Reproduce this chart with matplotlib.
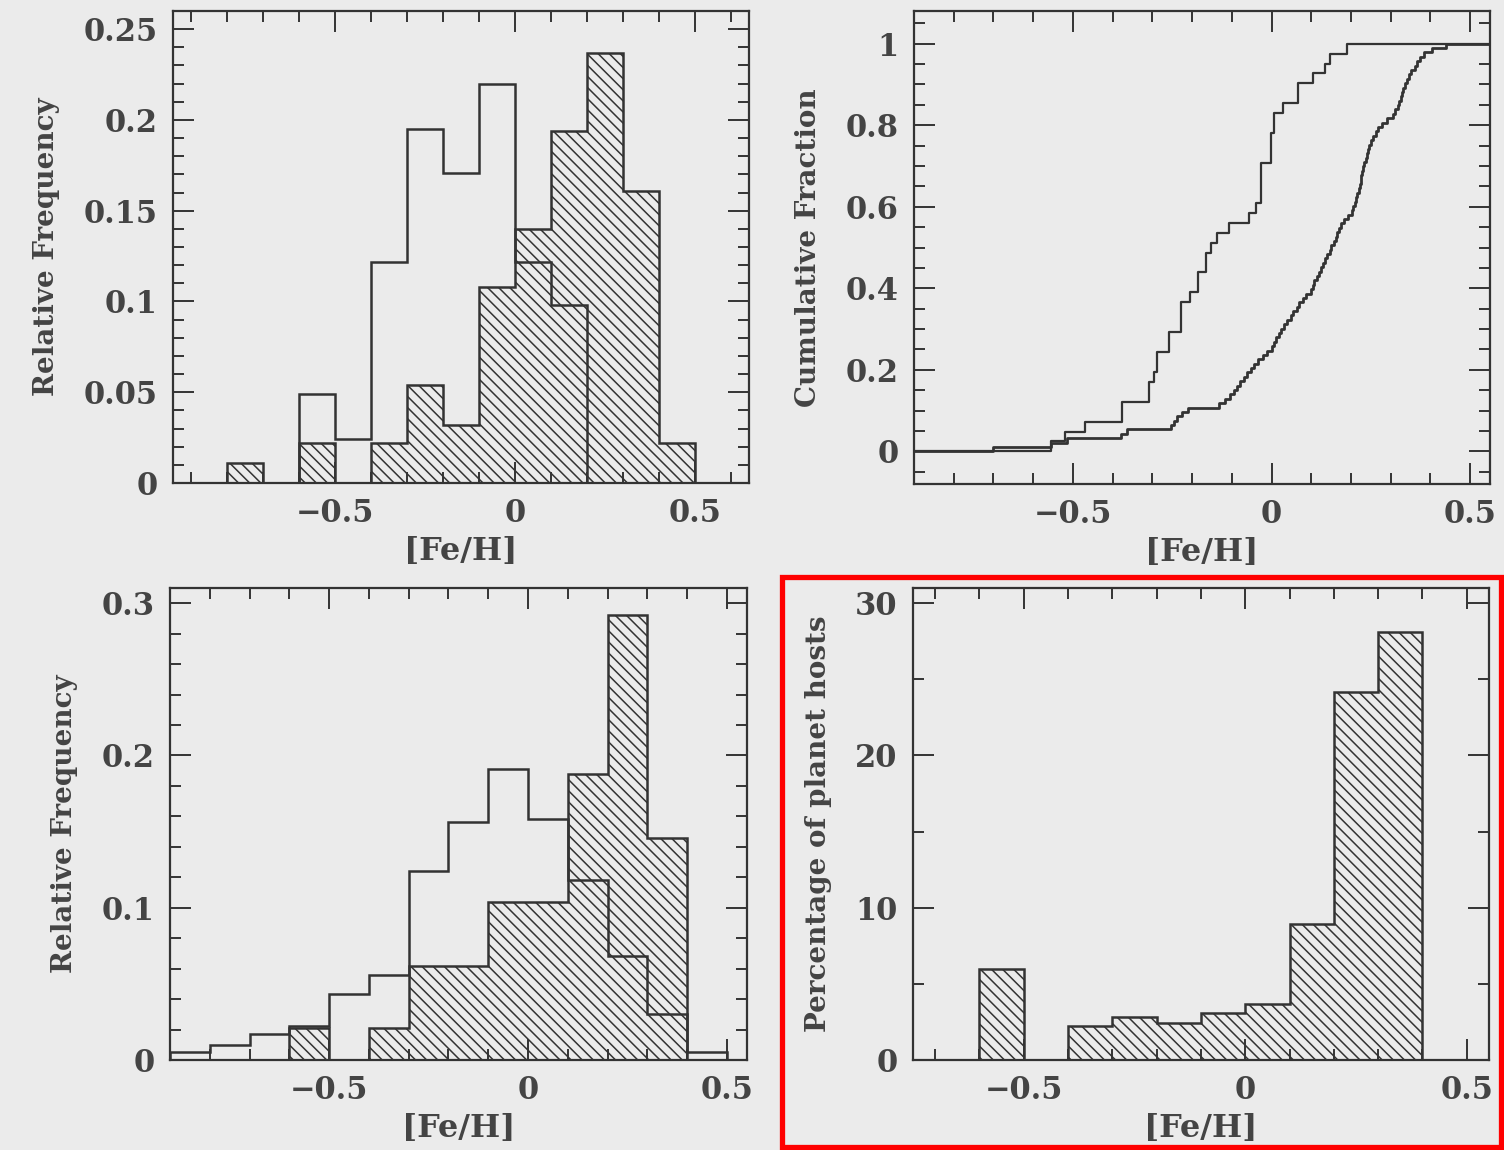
import numpy as np
import matplotlib.pyplot as plt
from matplotlib.patches import Rectangle
from matplotlib.ticker import MultipleLocator, FuncFormatter

# ---- top left: relative frequency, planet hosts (hatched) vs comparison stars
edges_a = [-0.8, -0.7, -0.6, -0.5, -0.4, -0.3, -0.2, -0.1, 0.0, 0.1, 0.2, 0.3, 0.4, 0.5]
hosts_a = [0.011, 0, 0.022, 0, 0.022, 0.054, 0.032, 0.108, 0.140, 0.194, 0.237, 0.161, 0.022]
comp_a = [0, 0, 0.049, 0.024, 0.122, 0.195, 0.171, 0.220, 0.122, 0.098, 0, 0, 0]

# ---- top right: cumulative distributions ([Fe/H] of each star)
comp_feh = [-0.555, -0.52, -0.469, -0.376, -0.376, -0.308, -0.308, -0.297, -0.289, -0.289,
            -0.258, -0.258, -0.228, -0.228, -0.228, -0.205, -0.184, -0.184, -0.166, -0.166,
            -0.153, -0.137, -0.107, -0.056, -0.039, -0.027, -0.027, -0.027, -0.027, -0.001,
            -0.001, -0.001, 0.007, 0.007, 0.028, 0.066, 0.066, 0.105, 0.134, 0.147, 0.189]
hosts_feh = [-0.70, -0.555, -0.515, -0.38, -0.363,
             -0.253, -0.245, -0.237, -0.225, -0.211,
             -0.131, -0.118, -0.105,
             -0.095, -0.088, -0.08, -0.07, -0.062, -0.052, -0.043, -0.033, -0.022, -0.012,
             0.0, 0.005, 0.012, 0.018, 0.025, 0.032, 0.04, 0.048, 0.055, 0.063, 0.07, 0.078, 0.088,
             0.10, 0.104, 0.108, 0.115, 0.12, 0.125, 0.13, 0.134, 0.14, 0.146, 0.15, 0.157,
             0.162, 0.166, 0.17, 0.175, 0.183, 0.192,
             0.202, 0.206, 0.21, 0.213, 0.216, 0.219, 0.222, 0.224, 0.226, 0.228, 0.231,
             0.234, 0.237, 0.24, 0.242, 0.245, 0.25, 0.256, 0.262, 0.268, 0.278, 0.29,
             0.305, 0.312, 0.318, 0.322, 0.326, 0.329, 0.332, 0.335, 0.34, 0.346, 0.352,
             0.36, 0.366, 0.374, 0.385,
             0.405, 0.44]

# ---- bottom left: volume-limited samples
edges_c = [-0.9, -0.8, -0.7, -0.6, -0.5, -0.4, -0.3, -0.2, -0.1, 0.0, 0.1, 0.2, 0.3, 0.4, 0.5]
hosts_c = [0, 0, 0, 0.021, 0, 0.021, 0.062, 0.062, 0.104, 0.104, 0.188, 0.292, 0.146, 0]
comp_c = [0.005, 0.010, 0.017, 0.022, 0.043, 0.056, 0.124, 0.156, 0.191, 0.158, 0.118,
          0.068, 0.030, 0.005]

# ---- bottom right: percentage of stars hosting planets
edges_d = [-0.6, -0.5, -0.4, -0.3, -0.2, -0.1, 0.0, 0.1, 0.2, 0.3, 0.4]
pct_d = [6.0, 0, 2.2, 2.8, 2.4, 3.1, 3.7, 8.9, 24.2, 28.1]

ink = '#333333'
txt = '#444444'
paper = '#ebebeb'
hatch = '\\\\\\'

plt.rcParams['font.family'] = ['DejaVu Serif']
plt.rcParams['font.weight'] = 'bold'
plt.rcParams['axes.labelweight'] = 'bold'
plt.rcParams['hatch.color'] = ink
plt.rcParams['hatch.linewidth'] = 1.1
plt.rcParams['axes.linewidth'] = 1.6

fig = plt.figure(figsize=(15.04, 11.5), dpi=100, facecolor=paper)

fmt = FuncFormatter(lambda v, p: f'{v:g}'.replace('-', '\u2212'))


def style(ax, xlim, ylim, ymaj, ymin, ylabel):
    ax.set_facecolor(paper)
    ax.set_xlim(*xlim)
    ax.set_ylim(*ylim)
    ax.xaxis.set_major_locator(MultipleLocator(0.5))
    ax.xaxis.set_minor_locator(MultipleLocator(0.1))
    ax.yaxis.set_major_locator(MultipleLocator(ymaj))
    ax.yaxis.set_minor_locator(MultipleLocator(ymin))
    ax.xaxis.set_major_formatter(fmt)
    ax.yaxis.set_major_formatter(fmt)
    ax.tick_params(which='both', direction='in', top=True, right=True,
                   color=ink, width=1.4, labelsize=22, labelcolor=txt)
    ax.tick_params(which='major', length=15, pad=11)
    ax.tick_params(which='minor', length=8)
    for s in ax.spines.values():
        s.set_color(ink)
    ax.set_xlabel('[Fe/H]', fontsize=23, color=txt, labelpad=5)
    ax.set_ylabel(ylabel, fontsize=20, color=txt, labelpad=17)


# top left
ax1 = fig.add_axes([0.1150, 0.5800, 0.3830, 0.4104])
ax1.stairs(hosts_a, edges_a, fill=True, facecolor='none', edgecolor=ink, hatch=hatch, lw=1.8)
ax1.stairs(comp_a, edges_a, color=ink, lw=1.8)
style(ax1, (-0.95, 0.65), (0, 0.26), 0.05, 0.01, 'Relative Frequency')

# top right
ax2 = fig.add_axes([0.6077, 0.5791, 0.3830, 0.4113])
x_lo, x_hi = -0.9, 0.55
for feh, lw in [(comp_feh, 1.6), (hosts_feh, 2.0)]:
    xs = np.sort(feh)
    ys = np.arange(1, len(xs) + 1) / len(xs)
    ax2.step(np.concatenate([[x_lo], xs, [x_hi]]), np.concatenate([[0], ys, [1]]),
             where='post', color=ink, lw=lw)
style(ax2, (x_lo, x_hi), (-0.08, 1.08), 0.2, 0.05, 'Cumulative Fraction')

# bottom left
ax3 = fig.add_axes([0.1130, 0.0783, 0.3836, 0.4104])
ax3.stairs(hosts_c, edges_c, fill=True, facecolor='none', edgecolor=ink, hatch=hatch, lw=1.8)
ax3.stairs(comp_c, edges_c, color=ink, lw=1.8)
style(ax3, (-0.9, 0.55), (0, 0.31), 0.1, 0.02, 'Relative Frequency')

# bottom right
ax4 = fig.add_axes([0.6070, 0.0783, 0.3830, 0.4104])
ax4.stairs(pct_d, edges_d, fill=True, facecolor='none', edgecolor=ink, hatch=hatch, lw=1.8)
style(ax4, (-0.75, 0.55), (0, 31), 10, 5, 'Percentage of planet hosts')

# red highlight frame around the last panel
fig.patches.append(Rectangle((782 / 1504, 0.0026), 719 / 1504, 0.4957,
                             transform=fig.transFigure, fill=False,
                             edgecolor='#ff0000', lw=3.8, zorder=10))

fig.savefig('out.png', dpi=100, facecolor=paper)
